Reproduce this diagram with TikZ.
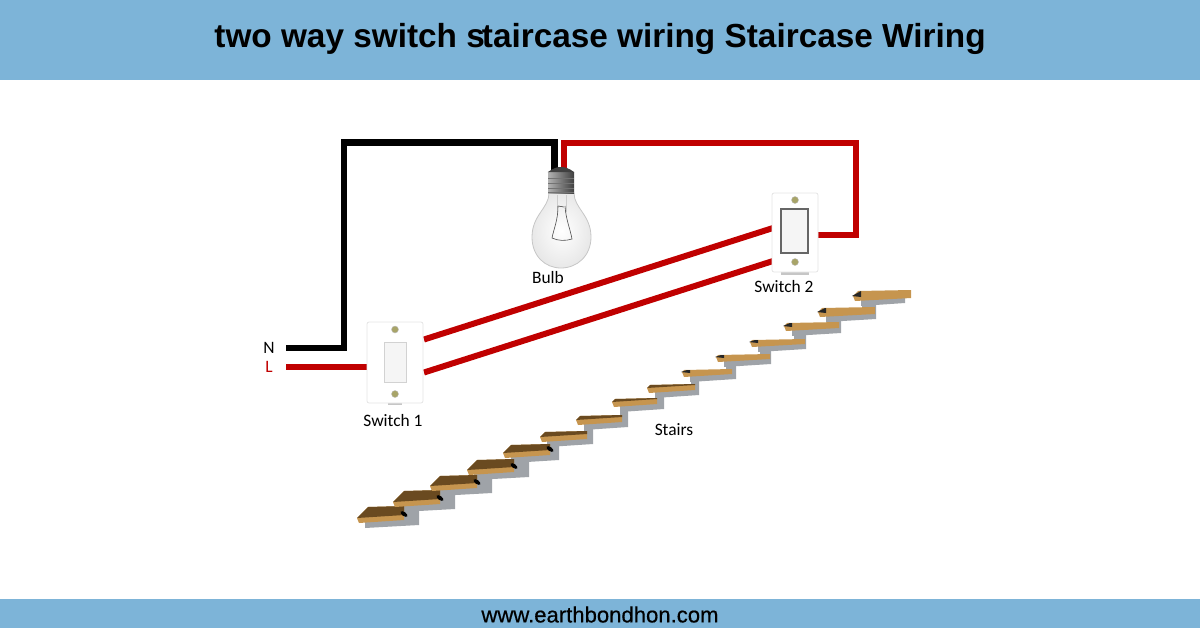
\documentclass[tikz,border=0pt]{standalone}
\usepackage{fontspec}
\setmainfont{Carlito}
\newfontfamily\bandfont{Liberation Sans}
\newfontfamily\sitefont[FakeBold=0.5]{Liberation Sans}
\definecolor{bandblue}{HTML}{7DB4D8}
\definecolor{wirered}{HTML}{C00000}
\definecolor{treadtan}{HTML}{C6954F}
\definecolor{treaddark}{HTML}{6A4A20}
\definecolor{risergray}{HTML}{9FA3A8}
\definecolor{screwolive}{HTML}{A8A468}
\tikzset{
  band/.style={fill=bandblue,draw=none},
  blackwire/.style={draw=black,line width=3.3pt},
  redwire/.style={draw=wirered,line width=3pt},
  lbl/.style={font=\fontsize{8.7}{10}\selectfont,inner sep=0pt},
  plate/.style={draw=gray!20,fill=white,rounded corners=1pt,inner sep=0pt},
  rocker/.style={fill=gray!8,inner sep=0pt},
  screw/.style={circle,fill=screwolive,draw=gray!50,line width=0.2pt,inner sep=0pt,minimum size=3.5pt}
}
\begin{document}
\begin{tikzpicture}[x=0.5pt,y=-0.5pt]
      \useasboundingbox (0,0) rectangle (1200,628);
      \fill [band] (0,0) rectangle (1200,80);
      \fill [band] (0,599) rectangle (1200,628);
      \node (title) at (600,39) {\bandfont\bfseries\fontsize{16.67}{20}\selectfont two way switch s\kern-1.5pt taircase wiring Staircase Wiring};
      \node (site) at (600,614.5) {\sitefont\fontsize{11.05}{13}\selectfont www.earthbondhon.com};

      % stairs, risers first
      \foreach \x/\y/\rgt/\up in {357/518/62/12, 393/502/62/12, 430/486/62/12,
        467/470/62/12, 503/453/56/12, 540/437/53/12, 576/420/52/12, 612/402/52/12,
        647/388/52/12, 682/372/54/12, 716/357/55/12, 750/342/56/12, 784/326/57/12,
        818/312/58/12, 853/296/52/0}
      {
        \begin{scope}[shift={(\x,\y)}]
          \fill [risergray] (8,1) -- (8,10) -- (\rgt,7) -- (\rgt,-\up) -- (44,-\up) -- (44,0) -- cycle;
        \end{scope}
      }
      \foreach \x/\y/\len/\hgt [count=\i] in {357/518/47/11, 393/502/47/11, 430/486/47/10, 467/470/47/10,
        503/453/47/8, 540/437/47/5, 576/420/46/4, 612/402/45/3, 647/388/48/3, 682/372/50/2,
        716/357/54/2, 750/342/55/2, 784/326/55/3, 818/312/57/4, 853/296/58/5}
      {
        \begin{scope}[shift={(\x,\y)}]
          \fill [treadtan] (0,0) -- (\hgt,-\hgt) -- (\len,-\hgt-1) -- (\len,2) -- (2,5) -- cycle;
          \ifnum\i<10
            \fill [treaddark] (0,0) -- (\hgt,-\hgt) -- (\len,-\hgt-1) -- (\len,-3) -- cycle;
          \fi
          \ifnum\i<6
            \fill [black,rotate around={-35:(\len,-4)}] (\len,-4) ellipse (4 and 2);
          \fi
          \ifnum\i>9
            \fill [black!85] (-1,0) -- (\hgt+3,-\hgt) -- (8,-\hgt) -- (8,1) -- cycle;
          \fi
        \end{scope}
      }
      \node [lbl] (stairs) at (674,430) {Stairs};

      % wire ends
      \coordinate (nend) at (286,348);
      \coordinate (lend) at (286,367);
      \coordinate (bulbn) at (554.5,172);
      \coordinate (bulbl) at (564,172);
      \coordinate (sw1l) at (368,367);
      \coordinate (sw1a) at (424,339.5);
      \coordinate (sw1c) at (424,372.5);
      \coordinate (sw2a) at (773,228);
      \coordinate (sw2c) at (773,261);
      \coordinate (sw2r) at (817,235);

      \draw [blackwire] (nend) -| (344,142.5) -| (bulbn);
      \draw [redwire] (lend) -- (sw1l);
      \draw [redwire] (sw1a) -- (sw2a);
      \draw [redwire] (sw1c) -- (sw2c);
      \draw [redwire] (bulbl) |- (856,142.5) |- (sw2r);

      % bulb glass, stems and cap
      \draw [gray!45,inner color=white,outer color=gray!18] (549,193) .. controls (549,208) and (532,215) .. (532,237)
        .. controls (532,256) and (545,268) .. (561,268) .. controls (577,268) and (591,256) .. (591,237)
        .. controls (591,215) and (574,208) .. (574,193) -- cycle;
      \draw [gray!40] (557,195) -- (557,212);
      \draw [gray!40] (566,195) -- (566,212);
      \draw [black!70,line width=0.3pt] (558,206) .. controls (558,220) and (554,228) .. (552,238)
        .. controls (558,241) and (566,241) .. (572,239) .. controls (570,228) and (566,220) .. (565,206);
      \draw [black!70,line width=0.3pt] (558,206) -- (564,207);
      \node [left color=gray!60,middle color=gray!15,right color=black!75,minimum width=13pt,minimum height=10.5pt,inner sep=0pt] (bulb) at (561,183) {};
      \fill [black!75] (bulb.north west) .. controls (549,172) and (553,167) .. (561,167) .. controls (569,167) and (573,172) .. (bulb.north east) -- cycle;
      \foreach \t in {178,183,188,192}
        \draw [black!55,line width=0.5pt] (548,\t) -- (574,\t);
      \node [lbl] (bulblbl) at (548,278) {Bulb};

      % switch plates
      \fill [gray!45] (388,403) rectangle (402,405);
      \fill [gray!45] (781,272) rectangle (809,274.5);
      \node [plate,minimum width=28pt,minimum height=40.5pt] (sw1) at (395,362.5) {};
      \node [rocker,draw=gray!35,minimum width=11pt,minimum height=20pt] (rock1) at (395,362) {};
      \node [screw] (sw1t) at (395,329.5) {};
      \node [screw] (sw1b) at (395,394) {};
      \node [lbl] (sw1lbl) at (393,421) {Switch 1};

      \node [plate,minimum width=23pt,minimum height=39.5pt] (sw2) at (795,232.5) {};
      \node [rocker,draw=black!60,line width=0.6pt,minimum width=13.5pt,minimum height=22pt] (rock2) at (794.5,231) {};
      \node [screw] (sw2t) at (795,200) {};
      \node [screw] (sw2b) at (795,262) {};
      \node [lbl] (sw2lbl) at (784,287) {Switch 2};

      \node [lbl] (nlbl) at (269,348) {N};
      \node [lbl,text=wirered] (llbl) at (269,367) {L};
    \end{tikzpicture}
\end{document}
